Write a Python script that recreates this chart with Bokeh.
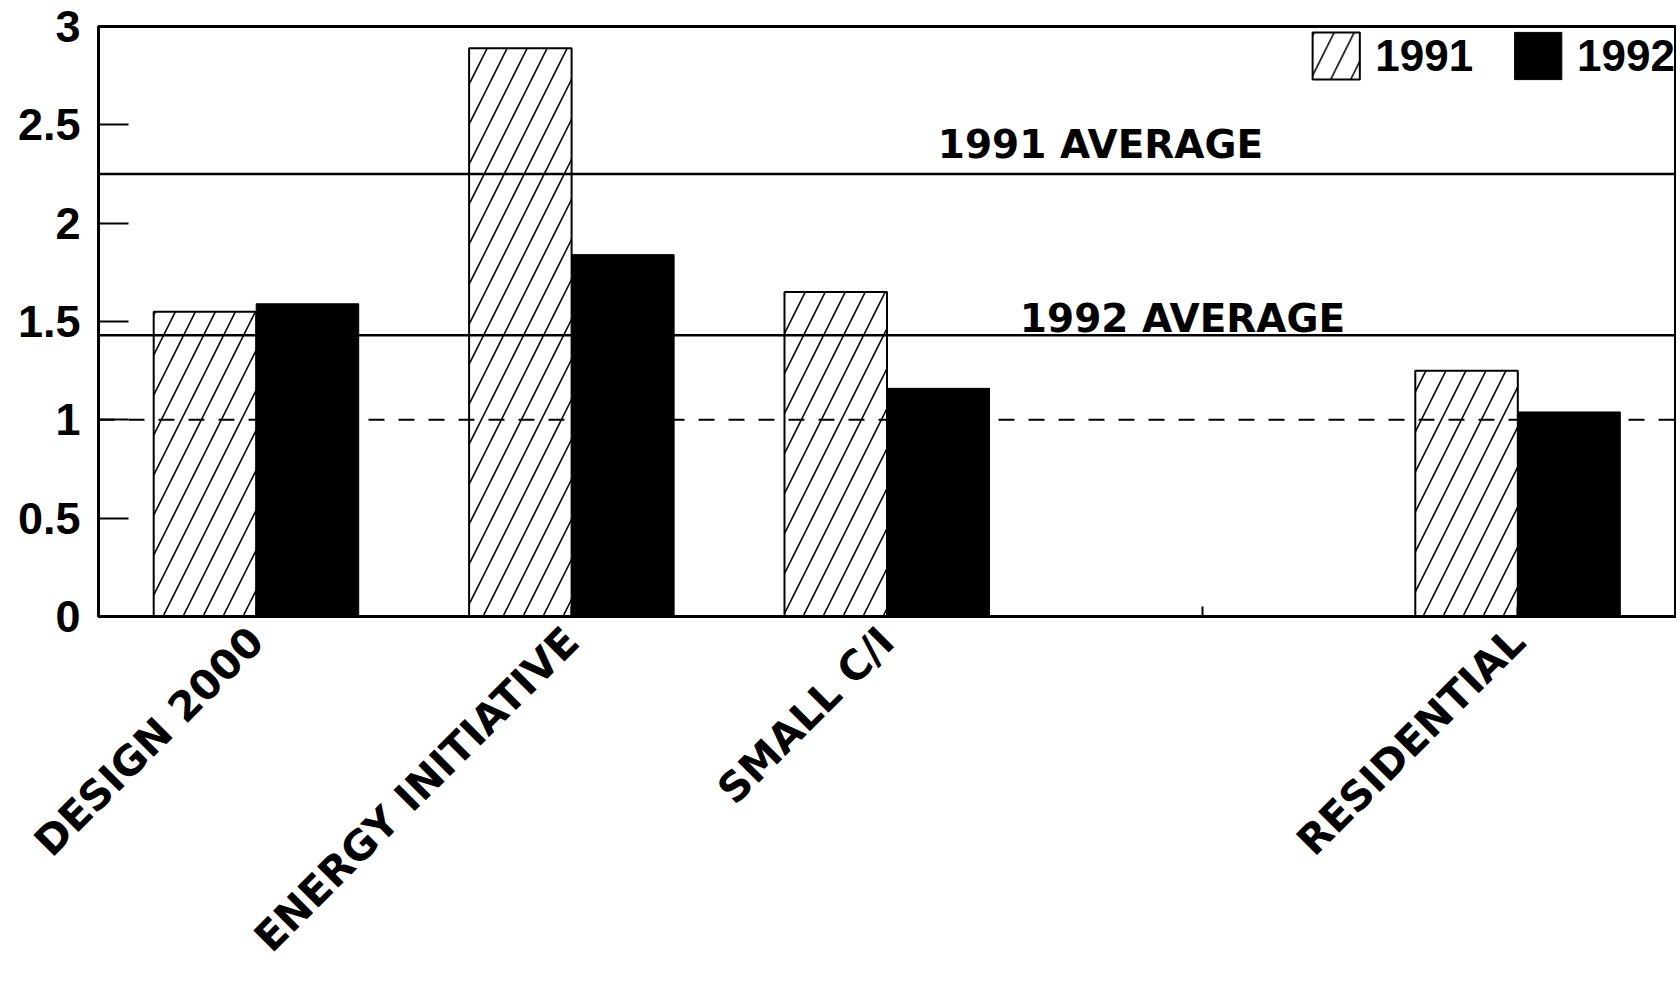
from bokeh.plotting import figure
from bokeh.models import (ColumnDataSource, FactorRange, Range1d, FixedTicker,
                          Span, Label, Legend, LegendItem)
from bokeh.transform import dodge
from bokeh.embed import file_html
from bokeh.resources import INLINE
import math

# ---- data ----
axis_factors = ["DESIGN 2000", "ENERGY INITIATIVE", "SMALL C/I", " ", "RESIDENTIAL"]
programs = ["DESIGN 2000", "ENERGY INITIATIVE", "SMALL C/I", "RESIDENTIAL"]
y1991 = [1.55, 2.89, 1.65, 1.25]
y1992 = [1.59, 1.84, 1.16, 1.04]
avg1991 = 2.25
avg1992 = 1.43
reference_level = 1.0
y_ticks = [0, 0.5, 1, 1.5, 2, 2.5, 3]
y_tick_labels = ["0", "0.5", "1", "1.5", "2", "2.5", "3"]
series_labels = ["1991", "1992"]
avg_labels = ["1991 AVERAGE", "1992 AVERAGE"]

src = ColumnDataSource(dict(program=programs, y1991=y1991, y1992=y1992))

p = figure(width=1676, height=982, output_backend="svg", toolbar_location=None,
           x_range=FactorRange(factors=axis_factors, range_padding=0),
           y_range=Range1d(0, 3),
           min_border_left=98, min_border_right=1, min_border_top=26,
           min_border_bottom=366)

p.xgrid.visible = False
p.ygrid.visible = False
p.outline_line_color = "black"
p.outline_line_width = 3
p.background_fill_color = "white"
p.border_fill_color = "white"

bar_w = 0.325
r1 = p.vbar(x=dodge("program", -bar_w / 2, range=p.x_range), top="y1991", width=bar_w,
            source=src, fill_color="white", line_color="black", line_width=2,
            hatch_pattern="/", hatch_scale=40, hatch_weight=1.6, hatch_color="black")
r2 = p.vbar(x=dodge("program", bar_w / 2, range=p.x_range), top="y1992", width=bar_w,
            source=src, fill_color="black", line_color="black", line_width=1)

p.add_layout(Span(location=avg1991, dimension="width", line_color="black", line_width=2.5))
p.add_layout(Span(location=avg1992, dimension="width", line_color="black", line_width=2.5))
p.add_layout(Span(location=reference_level, dimension="width", line_color="black",
                  line_width=2, line_dash="16 14"))

p.add_layout(Label(x=3.177, y=2.40, text=avg_labels[0], text_align="center",
                   text_baseline="alphabetic", text_font="DejaVu Sans",
                   text_font_style="bold", text_font_size="39px", text_color="black"))
p.add_layout(Label(x=3.437, y=1.515, text=avg_labels[1], text_align="center",
                   text_baseline="alphabetic", text_font="DejaVu Sans",
                   text_font_style="bold", text_font_size="39px", text_color="black"))

legend = Legend(items=[LegendItem(label=series_labels[0], renderers=[r1]),
                       LegendItem(label=series_labels[1], renderers=[r2])],
                orientation="horizontal", location="top_right",
                glyph_width=59, glyph_height=59, label_standoff=10, spacing=35,
                padding=6, margin=0, border_line_color=None,
                background_fill_alpha=0,
                label_text_font="Liberation Sans", label_text_font_style="bold",
                label_text_font_size="44px", label_text_color="black",
                label_height=59)
p.add_layout(legend)

# y axis
ya = p.yaxis[0]
ya.ticker = FixedTicker(ticks=y_ticks)
ya.major_label_overrides = {t: l for t, l in zip(y_ticks, y_tick_labels)}
ya.major_tick_in = 30
ya.major_tick_out = 0
ya.major_tick_line_width = 2
ya.minor_tick_line_color = None
ya.axis_line_width = 3
ya.major_label_standoff = 18
ya.major_label_text_font = "Liberation Sans"
ya.major_label_text_font_style = "bold"
ya.major_label_text_font_size = "45px"
ya.major_label_text_color = "black"

# x axis
xa = p.xaxis[0]
xa.major_label_orientation = math.pi / 4
xa.major_tick_in = 10
xa.major_tick_out = 0
xa.major_tick_line_width = 2
xa.axis_line_width = 3
xa.major_label_standoff = 18
xa.major_label_text_font = "DejaVu Sans"
xa.major_label_text_font_style = "bold"
xa.major_label_text_font_size = "41px"
xa.major_label_text_color = "black"

open("out.html", "w").write(file_html(p, INLINE))
